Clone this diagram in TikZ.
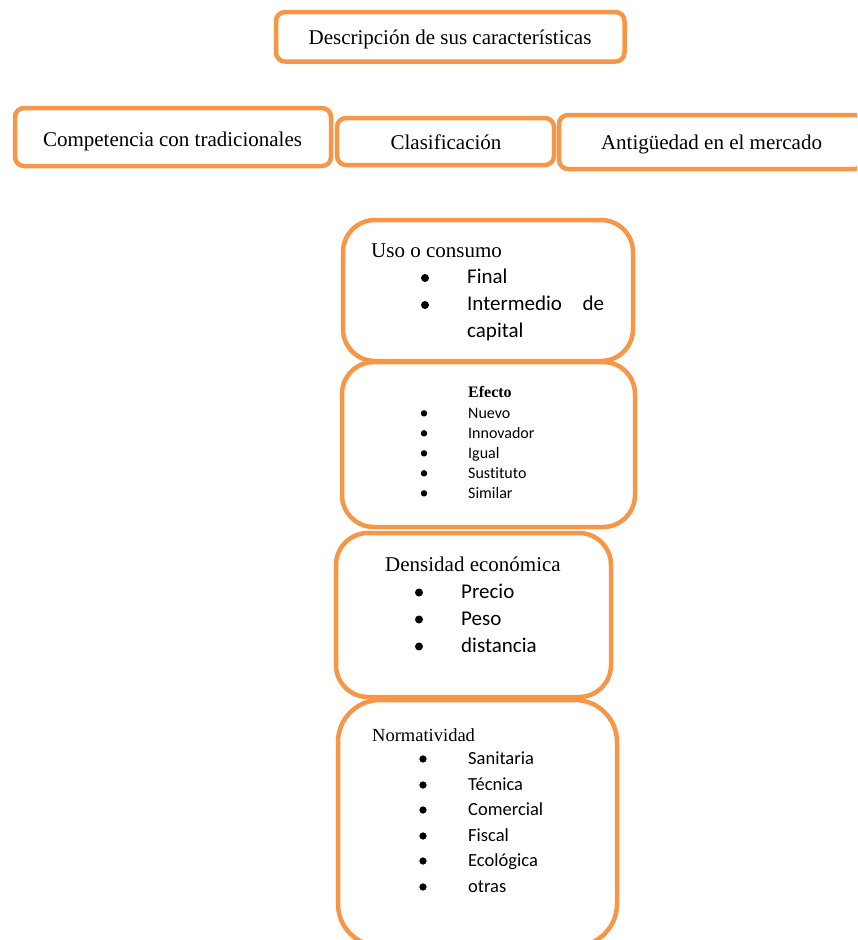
\documentclass[tikz,border=0pt]{standalone}
\usepackage{fontspec}
\setmainfont{Liberation Serif}
\newfontfamily\itemfont[Ligatures=NoCommon]{Carlito}
\definecolor{boxorange}{HTML}{F79646}

\tikzset{
  card/.style={draw=boxorange, line width=4.5pt, rounded corners=#1,
               inner sep=0pt, outer sep=0pt},
  head/.style={inner sep=0pt, font=\fontsize{21}{25}\selectfont},
  headsmall/.style={inner sep=0pt, font=\fontsize{18.5}{22}\selectfont},
  headtiny/.style={inner sep=0pt, font=\fontsize{16}{19}\selectfont\bfseries},
  itembig/.style={inner sep=0pt, anchor=base west, font=\fontsize{21}{25}\itemfont},
  itemmid/.style={inner sep=0pt, anchor=base west, font=\fontsize{18.5}{22}\itemfont},
  itemsmall/.style={inner sep=0pt, anchor=base west, font=\fontsize{16}{19}\itemfont},
  bullet/.style={circle, fill=black, inner sep=0pt, minimum size=#1},
}

\begin{document}
\begin{tikzpicture}[x=1pt, y=-1pt]
  \useasboundingbox (0,0) rectangle (857,940);
  \begin{scope}
  \clip (0,0) rectangle (857,940);

  % top title
  \node[card=9pt, minimum width=348.5pt, minimum height=49.5pt] (desc) at (450.25,36.75) {};
  \node[head, anchor=base] (descT) at (450,44) {Descripción de sus características};

  % second row
  \node[card=9pt, minimum width=316pt, minimum height=58pt] (comp) at (173,137) {};
  \node[head, anchor=base] (compT) at (172.5,146) {Competencia con tradicionales};

  \node[card=9pt, minimum width=217pt, minimum height=47pt] (clas) at (445.5,141.5) {};
  \node[head, anchor=base] (clasT) at (446,149) {Clasificación};

  \node[card=9pt, minimum width=305pt, minimum height=54pt] (anti) at (711.5,142) {};
  \node[head, anchor=base] (antiT) at (711.5,149) {Antigüedad en el mercado};

  % Uso o consumo
  \node[card=32pt, minimum width=290pt, minimum height=141pt] (uso) at (488,290.5) {};
  \node[head, anchor=base west] (usoT) at (371,257) {Uso o consumo};
  \node[bullet=8pt] (usoD1) at (425,278) {};
  \node[itembig] (usoI1) at (467,283) {Final};
  \node[bullet=8pt] (usoD2) at (425,305) {};
  \node[itembig] (usoI2) at (467,310) {\makebox[137pt][s]{Intermedio de}};
  \node[itembig] (usoI3) at (467,337) {capital};

  % Efecto
  \node[card=32pt, minimum width=293pt, minimum height=165pt] (efec) at (488.5,444.5) {};
  \node[headtiny, anchor=base west] (efecT) at (468,397) {Efecto};
  \foreach \y/\t [count=\i] in {418/Nuevo, 438/Innovador, 458/Igual, 478/Sustituto, 498/Similar}{
    \node[bullet=6.5pt] (efecD\i) at (424,\y-4.7) {};
    \node[itemsmall] (efecI\i) at (468,\y) {\t};
  }

  % Densidad economica
  \node[card=32pt, minimum width=275pt, minimum height=164pt] (dens) at (473.5,615) {};
  \node[head, anchor=base west] (densT) at (385,571) {Densidad económica};
  \foreach \y/\t [count=\i] in {598/Precio, 625/Peso, 652/distancia}{
    \node[bullet=8pt] (densD\i) at (419,\y-5.5) {};
    \node[itembig] (densI\i) at (461,\y) {\t};
  }

  % Normatividad
  \node[card=42pt, minimum width=279pt, minimum height=246pt] (norm) at (477.5,823) {};
  \node[headsmall, anchor=base west] (normT) at (372,741) {Normatividad};
  \foreach \y/\t [count=\i] in {764/Sanitaria, 790/Técnica, 815/Comercial, 841/Fiscal, 866/Ecológica, 892/otras}{
    \node[bullet=7.3pt] (normD\i) at (423,\y-5) {};
    \node[itemmid] (normI\i) at (468,\y) {\t};
  }
  \end{scope}
\end{tikzpicture}
\end{document}
